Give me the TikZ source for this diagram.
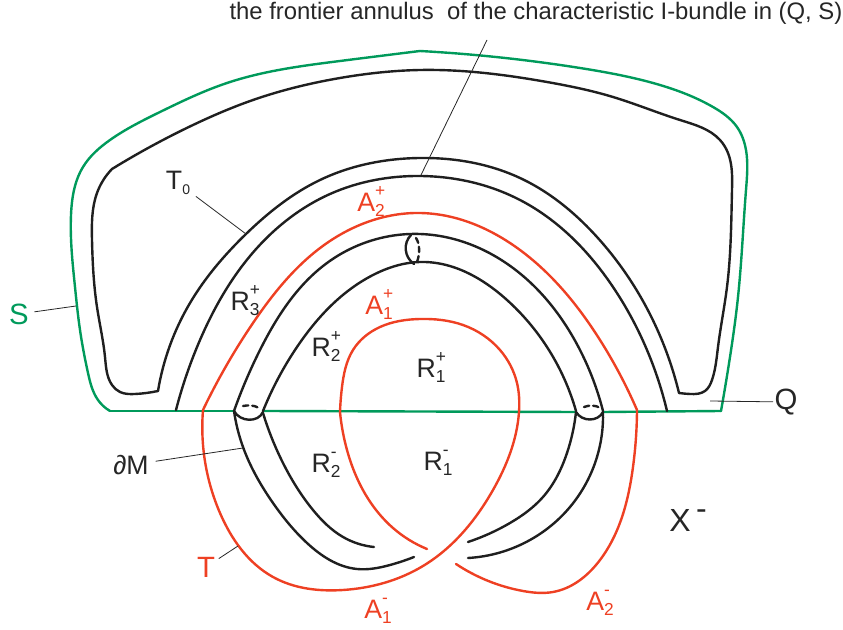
\documentclass[tikz,border=0pt]{standalone}
\usepackage{fontspec}
\setmainfont{Liberation Sans}
\usetikzlibrary{calc, positioning, hobby}
\definecolor{sgreen}{HTML}{009A5B}
\definecolor{tred}{HTML}{EE4023}
\newcommand{\subsup}[3]{#1\rlap{\raisebox{11pt}{\fontsize{13}{13}\selectfont #3}}\raisebox{-4pt}{\fontsize{13}{13}\selectfont #2}}
\tikzset{
  curve/.style={line width=1.8pt, line join=round, line cap=round, use Hobby shortcut},
  blackline/.style={curve, black!88},
  greenline/.style={curve, sgreen},
  redline/.style={curve, tred},
  leader/.style={line width=0.6pt, black!85},
  lab/.style={font=\fontsize{20}{22}\selectfont, inner sep=1pt, text=black!85},
  redlab/.style={lab, text=tred},
  biglab/.style={font=\fontsize{22}{24}\selectfont, inner sep=1pt}
}
\begin{document}
\begin{tikzpicture}[x=0.75pt, y=-0.75pt]
\useasboundingbox (0,0) rectangle (843,630);
% S and the flat part
\draw[greenline] (110,411) .. (98,400) .. (88,373) .. (80,330) .. (75,287) .. (71,215) .. (83,167) .. (110,140) .. (160,112) .. (227,83) .. (340,61) .. (420,51);
\draw[greenline] (420,51) .. (580,68) .. (653,83) .. (713,107) .. (737,127) .. (746,150) .. (746,190) .. (738,297) .. (730,357) .. (721,411);
\draw[greenline] (110,411) -- (234,411);
\draw[greenline] (263,411) -- (576,412);
\draw[greenline] (603,412) -- (721,411);
% Q
\draw[blackline] (112,169) .. (193,125) .. (253,100) .. (340,78) .. (420,70) .. (547,82) .. (613,97) .. (680,120) .. (720,140) .. (728,153) .. (732,190) .. (727,287) .. (718,347) .. (712,380) .. (705,391) .. (690,394) .. (679,393);
\draw[blackline] (112,169) .. (97,193) .. (92,240) .. (97,307) .. (105,357) .. (112,385) .. (120,392) .. (135,394) .. (158,391);
% T_0 band
\draw[blackline] (158,391) .. (190,303) .. (246,234) .. (320,180) .. (420,158) .. (520,178) .. (597,237) .. (663,343) .. (679,393);
\draw[blackline] (176,410) .. (200,340) .. (257,248) .. (330,194) .. (420,176) .. (520,200) .. (567,233) .. (613,287) .. (647,350) .. (667,411);
% upper tube
\draw[blackline] (234,411) .. (260,350) .. (327,263) .. (420,234) .. (513,268) .. (580,350) .. (603,411);
\draw[blackline] (263,411) .. (297,347) .. (373,275) .. (420,262) .. (507,300) .. (547,347) .. (576,411);
% meridian
\draw[blackline] (411,235) .. controls (403,243) and (404,257) .. (414,264);
\draw[blackline, dash pattern=on 4pt off 3pt] (416,238) .. controls (420,244) and (420,254) .. (417,262);
% lower tube
\draw[blackline] (234,411) .. (243,447) .. (273,503) .. (307,543) .. (357,569) .. (390,565) .. (414,557);
\draw[blackline] (263,413) .. (283,463) .. (313,510) .. (343,537) .. (374,547);
\draw[blackline] (576,412) .. (567,453) .. (543,497) .. (510,523) .. (468,542);
\draw[blackline] (603,412) .. (597,457) .. (570,507) .. (530,540) .. (468,558);
% tube ends
\draw[blackline] (234,411) .. controls (240,422) and (258,423) .. (263,412);
\draw[blackline, dash pattern=on 4pt off 3pt] (243,406) .. controls (248,405) and (254,405) .. (259,408);
\draw[blackline] (576,412) .. controls (582,422) and (598,422) .. (603,412);
\draw[blackline, dash pattern=on 4pt off 3pt] (584,407) .. controls (589,405) and (596,405) .. (600,408);
% T
\draw[redline] (203,410) .. (253,323) .. (327,243) .. (420,213) .. (520,250) .. (600,340) .. (637,410);
\draw[redline] (340,412) .. (342,387) .. (353,350) .. (380,327) .. (420,319) .. (463,325) .. (500,350) .. (517,383) .. (519,412) .. (493,490) .. (423,566) .. (343,590) .. (273,577) .. (220,513) .. (203,410);
\draw[redline] (340,412) .. (347,450) .. (367,497) .. (393,528) .. (427,549);
\draw[redline] (456,564) .. (523,591) .. (553,592) .. (600,560) .. (633,467) .. (637,410);
% labels
\node[font=\fontsize{17.9}{20}\selectfont, inner sep=0pt, text=black!85] (title) at (536,13) {the frontier annulus\ \ of the characteristic I-bundle in (Q, S)};
\node[lab] (Tzero) at (178,183) {T\raisebox{-4pt}{\fontsize{10.5}{11}\selectfont 0}};
\node[redlab] (Atwop) at (371,202) {\subsup{A}{2}{+}};
\node[redlab] (Aonep) at (379,305) {\subsup{A}{1}{+}};
\node[lab] (Rthreep) at (245,301) {\subsup{R}{3}{+}};
\node[lab] (Rtwop) at (326,347) {\subsup{R}{2}{+}};
\node[lab] (Ronep) at (431,368) {\subsup{R}{1}{+}};
\node[lab] (Rtwom) at (326,465) {\subsup{R}{2}{-}};
\node[lab] (Ronem) at (438,463) {\subsup{R}{1}{-}};
\node[biglab, text=sgreen] (S) at (19,314) {S};
\node[biglab, text=black!85] (Q) at (786,402) {Q};
\node[lab] (dM) at (131,465) {∂M};
\node[biglab, text=tred] (T) at (206,567) {T};
\node[redlab] (Aonem) at (378,611) {\subsup{A}{1}{-}};
\node[redlab] (Atwom) at (600,603) {\subsup{A}{2}{-}};
\node[biglab, text=black!85, font=\fontsize{24}{26}\selectfont] (Xm) at (688,520) {X\raisebox{9pt}{\,-}};
% leaders
\coordinate (titlefoot) at (487,40);
\coordinate (titleend) at (421,175);
\coordinate (Tzeroend) at (246,234);
\coordinate (Send) at (76,306);
\coordinate (Qend) at (710,401);
\coordinate (dMend) at (243,448);
\coordinate (Tend) at (238,546);
\draw[leader] (titlefoot) -- (titleend);
\draw[leader, shorten <=4pt] (Tzero) -- (Tzeroend);
\draw[leader, shorten <=3pt] (S) -- (Send);
\draw[leader] (Q) -- (Qend);
\draw[leader, shorten <=4pt] (dM) -- (dMend);
\draw[leader, shorten <=2pt] (T) -- (Tend);
\end{tikzpicture}
\end{document}
